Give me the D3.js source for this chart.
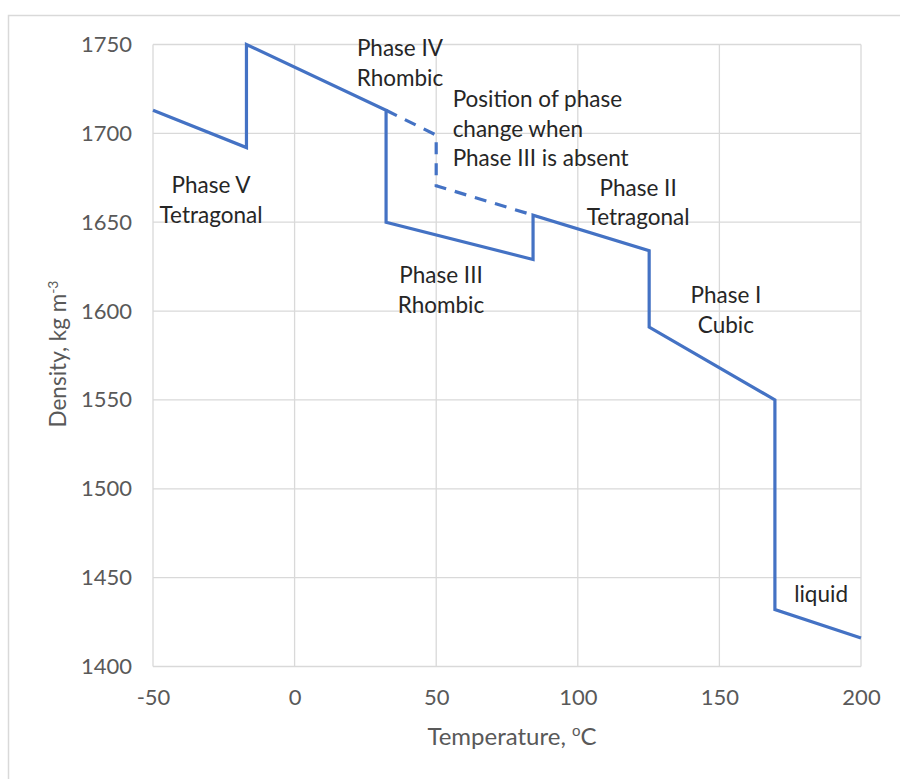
<!DOCTYPE html>
<html>
<head>
<meta charset="utf-8">
<script src="https://cdn.jsdelivr.net/npm/d3@7"></script>
<style>
  html, body { margin: 0; padding: 0; background: #fff; }
  svg { display: block; }
  text { font-family: Lato, "Open Sans", sans-serif; }
</style>
</head>
<body>
<svg id="chart" width="900" height="779"></svg>
<script>
// Density of ammonium nitrate across its solid phases and the melt
const temperature = [-50, -17, -17, 32.3, 32.3, 84.2, 84.2, 125.2, 125.2, 169.6, 169.6, 200];
const density     = [1713, 1692, 1750, 1713, 1650, 1629, 1654, 1634, 1591, 1550, 1432, 1416];

// IV -> II transition path when phase III does not form
const altTemperature = [32.3, 50, 50, 84.2];
const altDensity     = [1713, 1699, 1670.5, 1654];

const xTicks = [-50, 0, 50, 100, 150, 200];
const yTicks = [1400, 1450, 1500, 1550, 1600, 1650, 1700, 1750];

// Phase labels: text lines, anchor temperature, anchor density of first baseline, alignment
const labelLines = [
  ["Phase V", "Tetragonal"],
  ["Phase IV", "Rhombic"],
  ["Position of phase", "change when", "Phase III is absent"],
  ["Phase II", "Tetragonal"],
  ["Phase III", "Rhombic"],
  ["Phase I", "Cubic"],
  ["liquid"]
];
const labelTemp    = [-29.5, 37.2, 55.8, 121.3, 51.7, 152.3, 185.9];
const labelDensity = [1666.4, 1743.5, 1714.7, 1665, 1615.6, 1604.4, 1436.5];
const labelAlign   = ["middle", "middle", "start", "middle", "middle", "middle", "middle"];

const svg = d3.select("#chart");
const W = 900, H = 779;
const plot = { left: 153, right: 861, top: 44.5, bottom: 666.5 };

const x = d3.scaleLinear().domain([-50, 200]).range([plot.left, plot.right]);
const y = d3.scaleLinear().domain([1400, 1750]).range([plot.bottom, plot.top]);

const gridColor = "#d9d9d9";
const lineColor = "#4472c4";
const fmt = d => String(d); // plain integers with ASCII hyphen

// outer chart frame
svg.append("rect")
  .attr("x", 8.5).attr("y", 15.5)
  .attr("width", W + 10).attr("height", H + 10)
  .attr("fill", "#fff").attr("stroke", gridColor).attr("stroke-width", 1.5);

// gridlines
const grid = svg.append("g");
grid.selectAll(".hg").data(yTicks).join("line")
  .attr("x1", plot.left).attr("x2", plot.right)
  .attr("y1", d => y(d)).attr("y2", d => y(d))
  .attr("stroke", gridColor).attr("stroke-width", 1.3);
grid.selectAll(".vg").data(xTicks).join("line")
  .attr("y1", plot.top).attr("y2", plot.bottom)
  .attr("x1", d => x(d)).attr("x2", d => x(d))
  .attr("stroke", gridColor).attr("stroke-width", 1.3);

// axes (labels only)
const xAxis = d3.axisBottom(x).tickValues(xTicks).tickFormat(fmt).tickSize(0).tickPadding(34);
const gx = svg.append("g").attr("transform", `translate(0,${plot.bottom})`).call(xAxis);
gx.select(".domain").remove();
gx.selectAll("text").attr("font-size", 22).attr("fill", "#595959")
  .attr("font-family", "Lato, sans-serif").attr("dy", "0.2em");

const yAxis = d3.axisLeft(y).tickValues(yTicks).tickFormat(fmt).tickSize(0).tickPadding(21);
const gy = svg.append("g").attr("transform", `translate(${plot.left},0)`).call(yAxis);
gy.select(".domain").remove();
gy.selectAll("text").attr("font-size", 22).attr("fill", "#595959")
  .attr("font-family", "Lato, sans-serif");

// axis titles
const xt = svg.append("text")
  .attr("x", (plot.left + plot.right) / 2 + 5).attr("y", 745)
  .attr("text-anchor", "middle").attr("font-size", 24).attr("fill", "#595959");
xt.append("tspan").text("Temperature, ");
xt.append("tspan").text("o").attr("font-size", 15).attr("dy", -9);
xt.append("tspan").text("C").attr("dy", 9);

const yt = svg.append("text")
  .attr("transform", "translate(66,354) rotate(-90)")
  .attr("text-anchor", "middle").attr("font-size", 22.5).attr("fill", "#595959");
yt.append("tspan").text("Density, kg m");
yt.append("tspan").text("-3").attr("font-size", 14).attr("dy", -8);

// density curve
const pts = temperature.map((t, i) => [t, density[i]]);
const altPts = altTemperature.map((t, i) => [t, altDensity[i]]);
const line = d3.line().x(d => x(d[0])).y(d => y(d[1]));

svg.append("path").datum(altPts)
  .attr("d", line).attr("fill", "none")
  .attr("stroke", lineColor).attr("stroke-width", 3.2)
  .attr("stroke-dasharray", "12,9");

svg.append("path").datum(pts)
  .attr("d", line).attr("fill", "none")
  .attr("stroke", lineColor).attr("stroke-width", 3.2)
  .attr("stroke-linejoin", "miter");

// phase annotations
const labels = svg.append("g");
labelLines.forEach((lines, i) => {
  const t = labels.append("text")
    .attr("x", x(labelTemp[i])).attr("y", y(labelDensity[i]))
    .attr("text-anchor", labelAlign[i])
    .attr("font-size", 22.5).attr("fill", "#262626");
  lines.forEach((s, j) => {
    t.append("tspan").attr("x", x(labelTemp[i])).attr("dy", j === 0 ? 0 : 29.5).text(s);
  });
});
</script>
</body>
</html>
